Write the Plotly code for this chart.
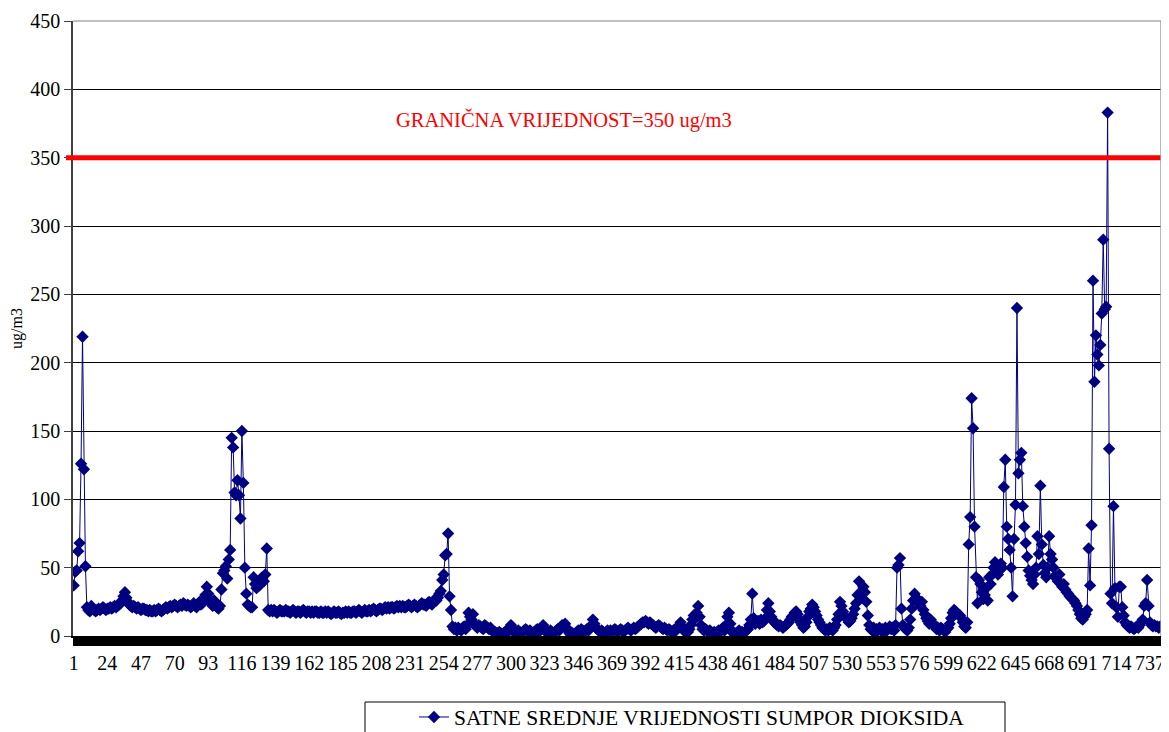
import plotly.graph_objects as go

# Hourly SO2 averages (ug/m3), one list per day (24 hours each)
day01 = [37, 47, 48, 62, 68, 126, 219, 122, 51, 21, 19, 18, 22, 20, 19, 18, 19, 20, 19, 20, 21, 20, 19, 20]
day02 = [20, 21, 20, 21, 22, 21, 22, 23, 24, 26, 29, 32, 28, 25, 23, 22, 21, 22, 21, 20, 21, 20, 19, 20]
day03 = [20, 19, 19, 18, 19, 18, 18, 19, 18, 19, 20, 19, 18, 19, 20, 21, 20, 21, 22, 21, 22, 23, 22, 21]
day04 = [22, 23, 22, 24, 23, 22, 23, 22, 21, 22, 24, 22, 21, 23, 25, 23, 24, 27, 30, 36, 31, 27, 24, 22]
day05 = [26, 23, 21, 20, 22, 34, 46, 48, 51, 42, 56, 63, 145, 138, 105, 103, 114, 103, 86, 150, 112, 50, 31, 23]
day06 = [22, 21, 21, 43, 38, 35, 40, 37, 42, 43, 40, 45, 64, 19, 18, 19, 18, 19, 18, 17, 18, 19, 18, 18]
day07 = [18, 19, 18, 18, 17, 18, 19, 18, 17, 18, 18, 17, 18, 19, 18, 17, 18, 18, 17, 18, 17, 18, 18, 17]
day08 = [17, 18, 17, 17, 18, 17, 18, 17, 16, 17, 18, 17, 17, 18, 17, 16, 17, 17, 18, 17, 18, 17, 17, 18]
day09 = [18, 17, 18, 19, 18, 17, 18, 19, 18, 18, 19, 18, 19, 20, 19, 18, 19, 20, 20, 19, 20, 21, 20, 21]
day10 = [20, 21, 21, 20, 21, 22, 21, 22, 21, 22, 21, 21, 22, 23, 22, 21, 22, 23, 22, 21, 22, 23, 24, 23]
day11 = [23, 22, 24, 25, 24, 23, 25, 27, 26, 28, 31, 33, 41, 45, 59, 60, 75, 29, 19, 7, 5, 6, 4, 6]
day12 = [5, 4, 6, 7, 5, 8, 17, 14, 12, 16, 9, 7, 6, 8, 7, 6, 5, 8, 7, 6, 5, 6, 4, 3]
day13 = [3, 2, 2, 3, 2, 1, 2, 3, 4, 3, 5, 8, 5, 3, 2, 3, 4, 3, 2, 3, 4, 5, 4, 3]
day14 = [4, 3, 2, 3, 4, 5, 3, 4, 6, 8, 5, 3, 2, 3, 4, 3, 2, 3, 4, 5, 4, 6, 8, 7]
day15 = [9, 6, 4, 2, 1, 2, 1, 2, 3, 4, 3, 5, 4, 3, 4, 5, 4, 6, 8, 12, 9, 6, 5, 4]
day16 = [3, 4, 3, 2, 3, 4, 3, 4, 3, 4, 5, 4, 3, 4, 5, 4, 3, 4, 5, 6, 5, 4, 5, 6]
day17 = [5, 6, 7, 8, 9, 10, 10, 11, 10, 9, 10, 9, 8, 7, 6, 7, 8, 7, 6, 5, 6, 5, 4, 5]
day18 = [4, 3, 4, 3, 5, 6, 8, 10, 7, 5, 3, 4, 3, 5, 8, 12, 15, 13, 17, 22, 14, 8, 5, 4]
day19 = [5, 4, 3, 4, 3, 2, 3, 2, 3, 4, 3, 5, 6, 4, 8, 14, 17, 9, 4, 2, 1, 2, 3, 4]
day20 = [2, 3, 2, 3, 4, 5, 8, 12, 31, 13, 9, 10, 11, 9, 12, 10, 11, 13, 19, 24, 18, 14, 12, 10]
day21 = [9, 8, 7, 8, 7, 6, 7, 8, 9, 10, 12, 14, 15, 17, 18, 16, 12, 10, 8, 6, 7, 10, 14, 18]
day22 = [20, 23, 21, 18, 15, 12, 10, 8, 6, 5, 4, 5, 4, 6, 5, 4, 6, 8, 12, 16, 25, 22, 18, 15]
day23 = [14, 12, 10, 11, 13, 16, 20, 24, 30, 40, 28, 33, 36, 32, 25, 15, 8, 5, 4, 6, 3, 5, 4, 6]
day24 = [4, 5, 3, 6, 4, 5, 7, 5, 6, 4, 8, 50, 52, 57, 20, 8, 6, 5, 4, 6, 12, 20, 26, 31]
day25 = [28, 27, 24, 22, 25, 19, 16, 13, 11, 9, 12, 10, 8, 7, 5, 6, 4, 6, 5, 4, 3, 5, 6, 9]
day26 = [13, 17, 19, 18, 17, 16, 15, 13, 10, 7, 6, 10, 67, 87, 174, 152, 80, 43, 24, 41, 38, 32, 27, 30]
day27 = [35, 26, 43, 38, 45, 50, 54, 48, 45, 48, 53, 50, 109, 129, 80, 71, 63, 50, 29, 71, 96, 240, 119, 129]
day28 = [134, 95, 80, 68, 58, 48, 44, 41, 38, 45, 50, 73, 60, 110, 67, 52, 46, 43, 50, 73, 60, 56, 50, 44]
day29 = [42, 40, 45, 38, 36, 38, 34, 32, 31, 29, 28, 27, 26, 24, 22, 19, 16, 13, 12, 14, 16, 19, 64, 37]
day30 = [81, 260, 186, 220, 206, 198, 213, 236, 290, 239, 241, 383, 137, 31, 24, 95, 35, 21, 14, 36, 36, 21, 15, 10]
day31 = [8, 7, 6, 7, 6, 5, 6, 7, 6, 8, 10, 12, 22, 24, 41, 22, 10, 8, 7, 8, 7, 7, 6, 7]

days = [day01, day02, day03, day04, day05, day06, day07, day08, day09, day10,
        day11, day12, day13, day14, day15, day16, day17, day18, day19, day20,
        day21, day22, day23, day24, day25, day26, day27, day28, day29, day30, day31]

so2 = [v for d in days for v in d]
hours = list(range(1, len(so2) + 1))

x_tick_labels = [1, 24, 47, 70, 93, 116, 139, 162, 185, 208, 231, 254, 277, 300, 323, 346, 369,
                 392, 415, 438, 461, 484, 507, 530, 553, 576, 599, 622, 645, 668, 691, 714, 737]
y_ticks = [0, 50, 100, 150, 200, 250, 300, 350, 400, 450]
LIMIT = 350
series_name = "SATNE SREDNJE VRIJEDNOSTI SUMPOR DIOKSIDA"
limit_text = "GRANIČNA VRIJEDNOST=350 ug/m3"
y_title = "ug/m3"

FONT = "Liberation Serif, DejaVu Serif, serif"
NAVY = "#000080"

tickvals = hours
ticktext = [str(h) if h in x_tick_labels else "" for h in hours]

fig = go.Figure()
fig.add_trace(go.Scatter(
    x=hours, y=so2, mode="lines+markers", name=series_name,
    line=dict(color=NAVY, width=1),
    marker=dict(symbol="diamond", size=9.5, color=NAVY),
))

# page has an 8px body margin: figure origin sits at page (8, 8)
OFF = 8
W, H = 1169 - OFF, 732 - OFF
# plot area in page pixels: x 73..1161, y 21..636
L = 73 - OFF
T = 21 - OFF
R = W - (1161 - OFF)
B = H - (636 - OFF)
pw = W - L - R
ph = H - T - B

def px_x(p):  # page pixel -> paper x
    return (p - OFF - L) / pw

def px_y(p):  # page pixel -> paper y
    return (H - B - (p - OFF)) / ph

shapes = [
    # limit line
    dict(type="line", xref="paper", yref="y", x0=px_x(66), x1=px_x(1169), y0=LIMIT, y1=LIMIT,
         line=dict(color="#ff0000", width=5), layer="above"),
    # right / top plot border (gray)
    dict(type="line", xref="paper", yref="paper", x0=1, x1=1, y0=0, y1=1,
         line=dict(color="#a0a0a0", width=1.5)),
    dict(type="line", xref="paper", yref="paper", x0=0, x1=1, y0=1, y1=1,
         line=dict(color="#808080", width=1)),
    # legend box
    dict(type="rect", xref="paper", yref="paper", x0=px_x(365), x1=px_x(1005),
         y0=px_y(745), y1=px_y(702), line=dict(color="black", width=1), fillcolor="rgba(0,0,0,0)"),
]

fig.update_layout(
    width=W, height=H,
    margin=dict(l=L, r=R, t=T, b=B, autoexpand=False),
    paper_bgcolor="white", plot_bgcolor="white",
    font=dict(family=FONT, color="black", size=20),
    showlegend=True,
    legend=dict(x=px_x(414), y=px_y(717), xanchor="left", yanchor="middle",
                orientation="h", bgcolor="rgba(0,0,0,0)", borderwidth=0,
                font=dict(family=FONT, size=21.5, color="black")),
    shapes=shapes,
    annotations=[dict(text=limit_text, xref="paper", yref="paper", x=px_x(394), y=px_y(120),
                      xanchor="left", yanchor="middle", showarrow=False,
                      font=dict(family=FONT, size=20.5, color="#ff0000"))],
)

fig.update_xaxes(
    range=[0.5, len(so2) + 0.5], tickmode="array", tickvals=tickvals, ticktext=ticktext,
    ticks="outside", ticklen=8, tickwidth=1.5, tickcolor="black",
    showline=True, linecolor="black", linewidth=1.5, showgrid=False, zeroline=False,
    tickfont=dict(family=FONT, size=20), tickangle=0,
)
fig.update_yaxes(
    range=[0, 450], tickmode="array", tickvals=y_ticks,
    ticks="outside", ticklen=7, tickcolor="#404040",
    showline=True, linecolor="#404040", linewidth=1.5,
    showgrid=True, gridcolor="black", gridwidth=1, zeroline=False,
    tickfont=dict(family=FONT, size=20),
    title=dict(text=y_title, font=dict(family=FONT, size=16), standoff=6),
)

fig.write_html("out.html")
